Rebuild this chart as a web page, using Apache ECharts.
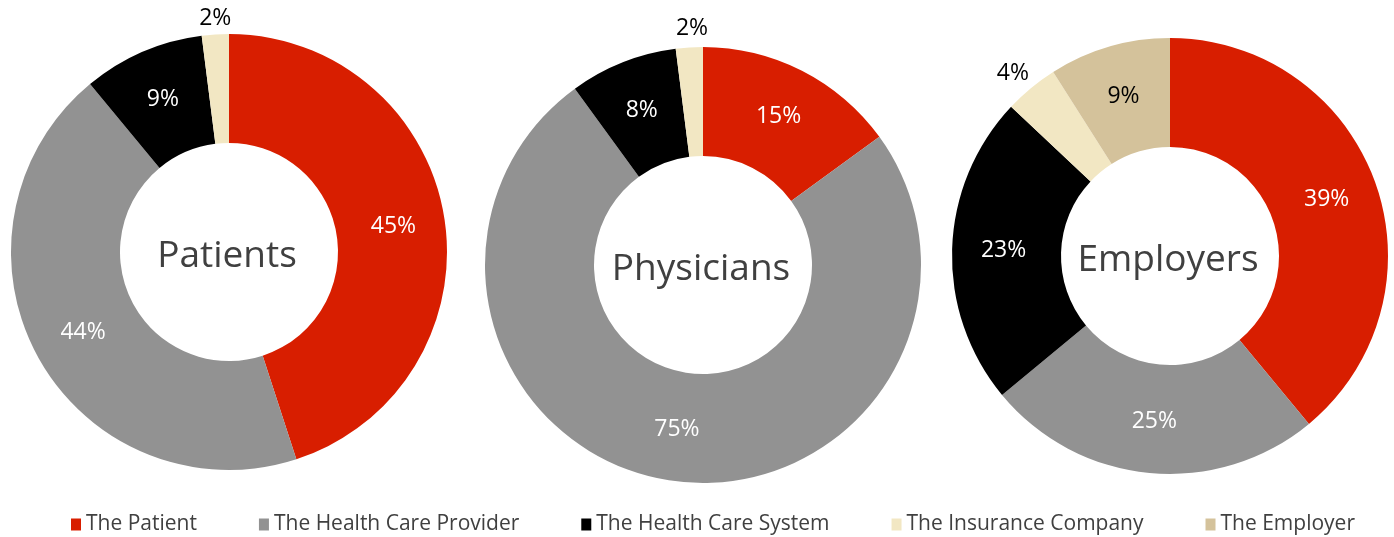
<!DOCTYPE html>
<html>
<head>
<meta charset="utf-8">
<script src="https://cdn.jsdelivr.net/npm/echarts@6/dist/echarts.min.js"></script>
<style>
  html, body { margin: 0; padding: 0; background: #fff; }
  #chart { width: 1394px; height: 537px; }
</style>
</head>
<body>
<div id="chart"></div>
<script>
// data
const categories = ['The Patient', 'The Health Care Provider', 'The Health Care System', 'The Insurance Company', 'The Employer'];
const colors = ['#d81e00', '#929292', '#000000', '#f2e7c3', '#d4c29b'];
const pieTitles = ['Patients', 'Physicians', 'Employers'];
const patientsValues = [45, 44, 9, 2];
const physiciansValues = [15, 75, 8, 2];
const employersValues = [39, 25, 23, 4, 9];

const pieCenters = [[229, 252], [703, 265], [1170, 256]];
// label line lengths for the small outside labels, per pie
const outerLines = [[16, -22], [19, -25], [19, -15]];
const font = 'Open Sans';

function buildData(values) {
  return values.map(function (v, i) {
    var small = v < 5;
    var dark = i === 4 || small;
    return {
      name: categories[i],
      value: v,
      itemStyle: { color: colors[i] },
      label: {
        position: small ? 'outside' : 'inside',
        color: dark ? '#000' : '#fff'
      }
    };
  });
}

function buildSeries(values, idx) {
  return {
    type: 'pie',
    name: pieTitles[idx],
    center: pieCenters[idx],
    radius: [109, 218],
    startAngle: 90,
    clockwise: true,
    avoidLabelOverlap: false,
    label: {
      show: true,
      formatter: '{c}%',
      fontFamily: font,
      fontSize: 23
    },
    labelLine: { show: false, length: outerLines[idx][0], length2: outerLines[idx][1] },
    emphasis: { disabled: true },
    data: buildData(values)
  };
}

const chart = echarts.init(document.getElementById('chart'));
chart.setOption({
  animation: false,
  title: pieTitles.map(function (t, i) {
    return {
      text: t,
      left: pieCenters[i][0] - 2,
      top: pieCenters[i][1] + 4,
      padding: 0,
      textAlign: 'center',
      textVerticalAlign: 'middle',
      textStyle: { fontFamily: font, fontSize: 37, fontWeight: 'normal', color: '#404040' }
    };
  }),
  legend: {
    data: categories,
    left: 66,
    top: 509,
    icon: 'rect',
    itemWidth: 10,
    itemHeight: 12,
    itemGap: 62,
    textStyle: { fontFamily: font, fontSize: 21, color: '#404040' }
  },
  series: [
    buildSeries(patientsValues, 0),
    buildSeries(physiciansValues, 1),
    buildSeries(employersValues, 2)
  ]
});
</script>
</body>
</html>
